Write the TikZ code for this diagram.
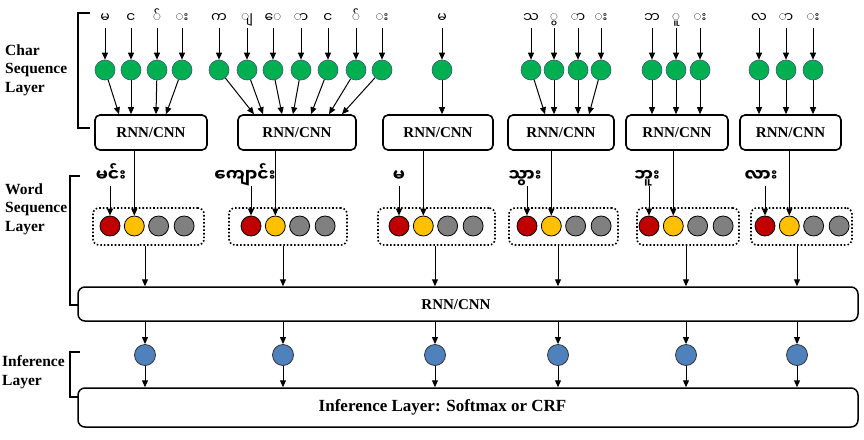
\documentclass[tikz,border=0pt]{standalone}
\usepackage{fontspec}
\setmainfont{Liberation Serif}
\newfontfamily\myan[Script=Myanmar]{Noto Sans Myanmar UI}
\usepackage{tikz}
\usetikzlibrary {arrows.meta}
\definecolor{chargreen}{RGB}{0,176,80}
\definecolor{wordred}{RGB}{192,0,0}
\definecolor{wordyellow}{RGB}{255,192,0}
\definecolor{wordgray}{RGB}{128,128,128}
\definecolor{infblue}{RGB}{79,129,189}
\definecolor{ballrim}{RGB}{60,85,120}
\pgfmathsetmacro{\gap}{24.3}
\tikzset{
	arr/.style={line width = 1pt, arrows = {-Triangle[length=7pt, width=6pt]}},
	charball/.style={circle, fill=chargreen, draw=ballrim, line width=.6pt, minimum size=20pt, inner sep=0pt},
	wordball/.style={circle, draw=black, line width=.8pt, minimum size=20pt, inner sep=0pt},
	infball/.style={circle, fill=infblue, draw=black!80, line width=.8pt, minimum size=21pt, inner sep=0pt},
	rnnbox/.style={draw, rounded corners=5pt, line width=1.6pt, inner sep=0pt, font=\bfseries\fontsize{15}{15}\selectfont},
	bigbox/.style={draw, rounded corners=7pt, line width=1.5pt, inner sep=0pt},
	wordbox/.style={draw, dotted, line width=1.6pt, rounded corners=6pt, inner sep=0pt},
	charlbl/.style={font=\myan\fontsize{14}{14}\selectfont, text height=10pt, text depth=5pt, inner sep=0pt, anchor=base},
	wordlbl/.style={font=\myan\bfseries\fontsize{17}{17}\selectfont, text height=12pt, text depth=5pt, inner sep=0pt, anchor=base},
	layerlbl/.style={font=\bfseries\fontsize{15.5}{18.5}\selectfont, align=left, anchor=west, inner sep=0pt},
	bracket/.style={line width = 1.3pt}
}

\begin{document}
\begin{tikzpicture}[x=1pt, y=-1pt]
		\useasboundingbox (0, 0) rectangle (864, 439);

		% layer names and brackets
		\node[layerlbl] (charname) at (5, 70) {Char\\Sequence\\Layer};
		\node[layerlbl] (wordname) at (5, 209) {Word\\Sequence\\Layer};
		\node[layerlbl] (infname) at (2, 372) {Inference\\Layer};
		\draw[bracket] (90, 13) -| (78, 128) -- (90, 128);
		\draw[bracket] (80, 176) -| (70, 305) -- (78, 305);
		\draw[bracket] (80, 352) -| (70, 397) -- (78, 397);

		% char sequence layer
		\foreach \g/\bx/\bw/\chars in {
			1/151/112/{မ/105/119, င/131/131, ◌်/157/156, ◌း/182/166},
			2/297/118/{က/219/254, ◌ျ/247/263, ◌ေ/273/282, ◌ာ/301/293, င/328/311, ◌်/356/329, ◌း/382/342},
			3/438/110/{မ/442/442},
			4/561/106/{သ/531/545, ◌ွ/554/554, ◌ာ/578/578, ◌း/601/589},
			5/677/102/{ဘ/652/652, ◌ူ/676/676, ◌း/700/700},
			6/790.5/101/{လ/759/759, ◌ာ/786/786, ◌း/813/813}} {
			\node[rnnbox, minimum width=\bw, minimum height=35] (cb\g) at (\bx, 132.5) {RNN/CNN};
			\foreach \c/\cx/\ex [count=\i] in \chars {
				\node[charlbl] (ch\g-\i) at (\cx, 23) {\c};
				\node[charball] (gc\g-\i) at (\cx, 70) {};
				\draw[arr] (ch\g-\i.south) -- (gc\g-\i.north);
				\draw[arr] (gc\g-\i) -- (\ex, 0 |- cb\g.north);
			}
		}

		% big boxes
		\node[bigbox, minimum width=780, minimum height=34] (rnn) at (468, 304) {};
		\node[font=\bfseries\fontsize{15}{15}\selectfont, inner sep=0pt] (rnnlbl) at (456, 305) {RNN/CNN};
		\node[bigbox, minimum width=780, minimum height=39] (inf) at (468, 407.5) {};
		\node[font=\bfseries\fontsize{17}{17}\selectfont, inner sep=0pt] (inflbl) at (442.5, 407) {Inference Layer: Softmax or CRF};

		% word sequence layer and inference layer
		\foreach \g/\wx/\ww/\rx/\bx/\word/\lx in {
			1/148.5/111/110/145/မင်း/111,
			2/288/118/251/283/ကျောင်း/245,
			3/436.5/117/399/435/မ/399,
			4/563.5/109/527/558/သွား/525,
			5/688/102/649/686/ဘူး/647,
			6/801.5/101/765/797/လား/761} {
			\node[wordbox, minimum width=\ww, minimum height=37] (wb\g) at (\wx, 226.5) {};
			\node[wordball, fill=wordred] (wc\g-1) at (\rx, 226) {};
			\node[wordball, fill=wordyellow] (wc\g-2) at (\rx + \gap, 226) {};
			\node[wordball, fill=wordgray] (wc\g-3) at (\rx + 2*\gap, 226) {};
			\node[wordball, fill=wordgray] (wc\g-4) at (\rx + 3.05*\gap, 226) {};
			\node[wordlbl] (wl\g) at (\lx, 181) {\word};
			\draw[arr] (wl\g.south -| wc\g-1) -- (wc\g-1.north);
			\draw[arr] (cb\g.south -| wc\g-2) -- (wc\g-2.north);
			\node[infball] (ib\g) at (\bx, 355) {};
			\draw[arr] (wb\g.south -| ib\g) -- (rnn.north -| ib\g);
			\draw[arr] (rnn.south -| ib\g) -- (ib\g.north);
			\draw[arr] (ib\g.south) -- (inf.north -| ib\g);
		}

	\end{tikzpicture}
\end{document}
